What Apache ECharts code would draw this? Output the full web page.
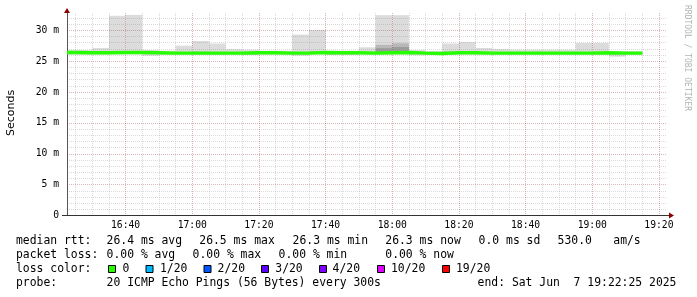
<!DOCTYPE html>
<html><head><meta charset="utf-8">
<script src="https://cdn.jsdelivr.net/npm/echarts@6/dist/echarts.min.js"></script>
<style>html,body{margin:0;padding:0;background:#fff}#c{width:697px;height:297px}</style>
</head><body><div id="c"></div>
<script>
// ---- data ----
const viewStart = '16:22:25';
const viewEnd = '19:22:25';
const binEnd = ['16:25','16:30','16:35','16:40','16:45','16:50','16:55','17:00','17:05','17:10',
                '17:15','17:20','17:25','17:30','17:35','17:40','17:45','17:50','17:55','18:00',
                '18:05','18:10','18:15','18:20','18:25','18:30','18:35','18:40','18:45','18:50',
                '18:55','19:00','19:05','19:10','19:15'];
const median  = [26.40,26.35,26.35,26.40,26.40,26.35,26.30,26.30,26.30,26.30,
                 26.30,26.35,26.35,26.30,26.30,26.40,26.35,26.35,26.30,26.35,
                 26.40,26.30,26.25,26.35,26.35,26.30,26.30,26.30,26.30,26.30,
                 26.30,26.30,26.35,26.30,26.30];
const smokeLo = [26.05,26.05,26.05,26.10,26.10,25.88,26.05,26.05,26.05,26.00,
                 26.05,26.00,26.05,26.05,25.88,26.10,26.00,26.00,26.05,26.05,
                 26.10,25.95,26.00,26.05,26.05,26.05,26.05,26.05,26.05,26.05,
                 26.05,26.05,26.05,25.72,26.05];
const smokeHi = [26.80,26.80,27.13,32.35,32.50,26.80,26.70,27.50,28.26,27.86,
                 26.95,26.85,26.70,26.70,29.30,30.05,26.70,26.70,27.24,32.45,
                 32.45,26.80,26.65,27.86,28.10,27.13,26.97,26.85,26.85,26.85,
                 26.85,27.94,27.94,26.60,26.60];
const midLo   = [26.20,26.15,26.15,26.20,26.20,26.15,26.15,26.15,26.15,26.15,
                 26.15,26.10,26.15,26.15,26.15,26.20,26.10,26.10,26.15,26.15,
                 26.20,26.15,26.10,26.15,26.15,26.15,26.15,26.15,26.15,26.15,
                 26.15,26.15,26.15,26.15,26.15];
const midHi   = [26.55,26.50,26.55,26.60,26.60,26.50,26.45,26.50,26.55,26.50,
                 26.45,26.50,26.50,26.45,26.50,26.60,26.50,26.50,26.50,27.65,
                 27.90,26.50,26.40,26.55,26.55,26.50,26.45,26.45,26.45,26.45,
                 26.45,26.50,26.50,26.45,26.45];
const innerLo = [26.25,26.20,26.20,26.25,26.25,26.20,26.20,26.20,26.20,26.20,
                 26.20,26.15,26.20,26.20,26.20,26.25,26.15,26.15,26.20,26.20,
                 26.25,26.20,26.15,26.20,26.20,26.20,26.20,26.20,26.20,26.20,
                 26.20,26.20,26.20,26.20,26.20];
const innerHi = [26.45,26.40,26.40,26.45,26.45,26.40,26.35,26.35,26.40,26.35,
                 26.35,26.40,26.40,26.35,26.35,26.45,26.40,26.40,26.35,27.10,
                 27.30,26.35,26.30,26.40,26.40,26.35,26.35,26.35,26.35,26.35,
                 26.35,26.35,26.40,26.35,26.35];
const xTickLabels = ['16:40','17:00','17:20','17:40','18:00','18:20','18:40','19:00','19:20'];
const yTickValues = [0,5,10,15,20,25,30];
const yMax = 32.8;
const statRow1 = ['median rtt:','26.4 ms avg','26.5 ms max','26.3 ms min','26.3 ms now','0.0 ms sd','530.0','am/s'];
const statRow2 = ['packet loss:','0.00 % avg','0.00 % max','0.00 % min','0.00 % now'];
const lossTitle = 'loss color:';
const lossLabels = ['0','1/20','2/20','3/20','4/20','10/20','19/20'];
const lossColors = ['#26ff00','#00b8ff','#0059ff','#5e00ff','#7e00ff','#dd00ff','#ff0000'];
const probeRow = ['probe:','20 ICMP Echo Pings (56 Bytes) every 300s','end: Sat Jun  7 19:22:25 2025'];
const watermark = 'RRDTOOL / TOBI OETIKER';
const yTitle = 'Seconds';

// ---- helpers ----
const toMin = s => { const p = s.split(':').map(Number); return p[0]*60 + p[1] + (p[2]||0)/60; };
const pad = n => String(n).padStart(2,'0');
const fmtTime = v => pad(Math.floor(Math.round(v)/60)) + ':' + pad(Math.round(v)%60);
const xMin = toMin(viewStart), xMax = toMin(viewEnd);
const majorX = xTickLabels.map(toMin);
const minorX = []; for (let m = Math.ceil(xMin/5)*5; m <= xMax; m += 5) if (m % 20) minorX.push(m);
const minorY = []; for (let v = 1; v <= Math.floor(yMax); v++) if (v % 5) minorY.push(v);

const smokeData = binEnd.map((t,i) => [toMin(t), smokeLo[i], smokeHi[i], midLo[i], midHi[i], innerLo[i], innerHi[i]]);
const medData = [[Math.max(toMin(binEnd[0]) - 5, xMin), median[0]]].concat(binEnd.map((t,i) => [toMin(t), median[i]]));

const MONO = '"DejaVu Sans Mono"';
const gridMinor = 'rgba(140,140,140,0.32)';
const gridMajor = 'rgba(140,30,30,0.32)';
const G = {left:67, top:13, right:667, bottom:215.5};

const graphic = [];
graphic.push({type:'line', shape:{x1:62, y1:G.bottom, x2:669, y2:G.bottom}, style:{stroke:'#333', lineWidth:1}, z:10});
graphic.push({type:'polygon', shape:{points:[[669,212.5],[674,G.bottom],[669,218.5]]}, style:{fill:'#8b0000'}, z:11});
graphic.push({type:'polygon', shape:{points:[[64,13],[67,8],[70,13]]}, style:{fill:'#8b0000'}, z:11});
graphic.push({type:'text', x:11, y:113, rotation:Math.PI/2, style:{text:yTitle, font:'11px "DejaVu Sans"', fill:'#000', align:'center', verticalAlign:'middle'}});
graphic.push({type:'text', x:687, y:5, rotation:-Math.PI/2, style:{text:watermark, font:'8px ' + MONO, fill:'#b4b4b4', align:'left', verticalAlign:'middle'}});
const LF = '11.4px ' + MONO;
const addText = (t, x, y) => graphic.push({type:'text', x:x, y:y, style:{text:t, font:LF, fill:'#000', align:'left', verticalAlign:'middle'}});
const row1X = [16, 106.6, 199.3, 292.6, 385.3, 478.6, 557.6, 613.3];
statRow1.forEach((t,i) => addText(t, row1X[i], 241));
const row2X = [16, 106.6, 192.6, 278.6, 385.3];
statRow2.forEach((t,i) => addText(t, row2X[i], 255.3));
addText(lossTitle, 16, 269.5);
const boxX = [108.5, 146, 204, 261.5, 319.5, 377.5, 442.5];
const labX = [122.6, 160, 217.6, 275.3, 332.6, 391, 456];
lossLabels.forEach((t,i) => {
  graphic.push({type:'rect', shape:{x:boxX[i], y:265.5, width:7, height:7}, style:{fill:lossColors[i], stroke:'#000', lineWidth:1}});
  addText(t, labX[i], 269.5);
});
const row4X = [16, 106.6, 477.6];
probeRow.forEach((t,i) => addText(t, row4X[i], 283.5));

const chart = echarts.init(document.getElementById('c'), null, {renderer:'canvas'});
chart.setOption({
  animation:false,
  backgroundColor:'#fff',
  grid:{left:G.left, top:G.top, right:697-G.right, bottom:297-G.bottom, containLabel:false},
  xAxis:[{
    type:'value', min:xMin, max:xMax, z:4,
    axisLine:{show:true, onZero:false, lineStyle:{color:'#333', width:1}},
    axisTick:{show:false, customValues:majorX},
    axisLabel:{customValues:majorX, formatter:fmtTime, margin:5, fontFamily:MONO, fontSize:9.7, color:'#000'},
    splitLine:{show:true, lineStyle:{color:gridMajor, type:[1,1], width:1}}
  },{
    type:'value', min:xMin, max:xMax, z:3, position:'bottom',
    axisLine:{show:false}, axisTick:{show:false, customValues:minorX}, axisLabel:{show:false},
    splitLine:{show:true, lineStyle:{color:gridMinor, type:[1,1], width:1}}
  }],
  yAxis:[{
    type:'value', min:0, max:yMax, z:4,
    axisLine:{show:true, lineStyle:{color:'#555', width:1}},
    axisTick:{show:false, customValues:yTickValues},
    axisLabel:{customValues:yTickValues, formatter:v => v === 0 ? '0' : v + ' m', margin:8, fontFamily:MONO, fontSize:9.7, color:'#000'},
    splitLine:{show:true, lineStyle:{color:gridMajor, type:[1,1], width:1}}
  },{
    type:'value', min:0, max:yMax, z:3,
    axisLine:{show:false}, axisTick:{show:false, customValues:minorY}, axisLabel:{show:false},
    splitLine:{show:true, lineStyle:{color:gridMinor, type:[1,1], width:1}}
  }],
  series:[{
    type:'custom', xAxisIndex:0, yAxisIndex:0, z:1,
    data:smokeData,
    renderItem:(params, api) => {
      const end = api.value(0), start = Math.max(end - 5, xMin);
      const layers = [[1,2,'#dcdcdc'],[3,4,'#b8b8b8'],[5,6,'#9c9c9c']];
      const children = layers.map(([a,b,col]) => {
        const p1 = api.coord([start, api.value(b)]);
        const p2 = api.coord([end, api.value(a)]);
        return {type:'rect', shape:{x:p1[0], y:p1[1], width:p2[0]-p1[0], height:p2[1]-p1[1]}, style:{fill:col}};
      });
      return {type:'group', children};
    }
  },{
    type:'line', xAxisIndex:0, yAxisIndex:0, z:6,
    data:medData, step:'start', showSymbol:false, symbol:'none',
    lineStyle:{color:lossColors[0], width:3.4, cap:'butt'}
  }],
  graphic:graphic
});
</script></body></html>
